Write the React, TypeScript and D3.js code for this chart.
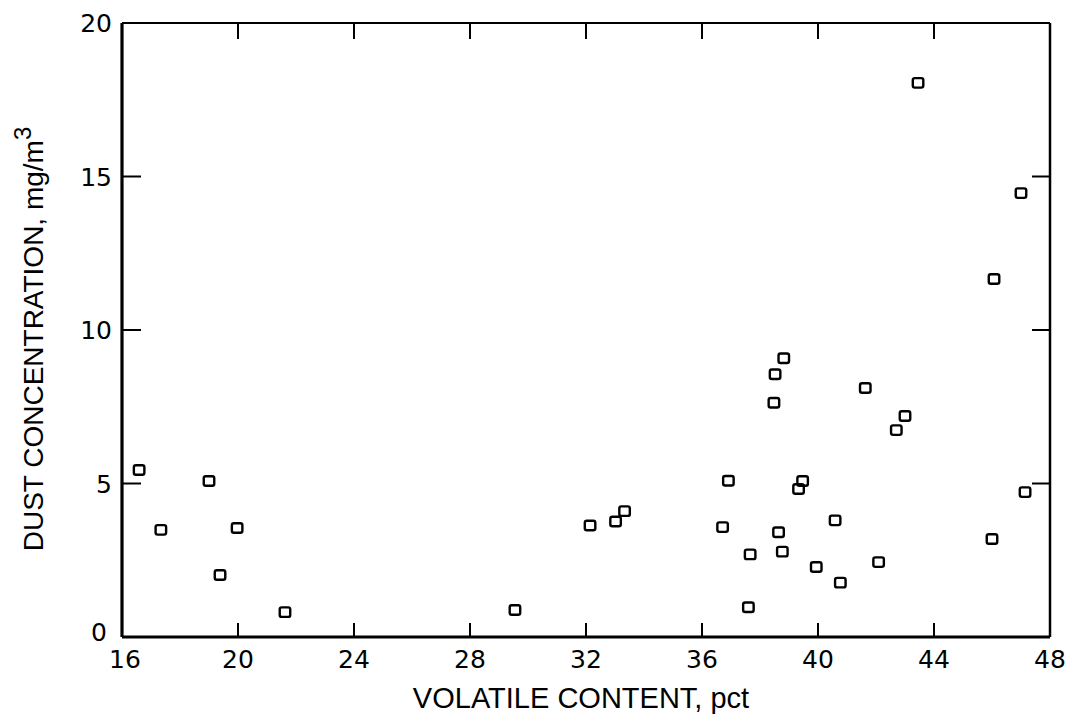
import React from "react";
import * as d3 from "d3";

const volatile = [16.59, 17.34, 19.0, 19.38, 19.97, 21.62, 29.55, 32.14, 33.02, 33.33, 36.71, 36.91, 37.66, 37.6, 38.48, 38.52, 38.82, 38.64, 38.77, 39.33, 39.47, 39.94, 40.59, 40.77, 41.63, 42.09, 42.7, 43.0, 43.45, 46.0, 46.07, 47.0, 47.14];
const dust = [5.44, 3.49, 5.08, 2.02, 3.55, 0.81, 0.88, 3.63, 3.76, 4.1, 3.58, 5.09, 2.69, 0.97, 7.63, 8.56, 9.08, 3.41, 2.78, 4.82, 5.08, 2.28, 3.8, 1.77, 8.11, 2.44, 6.74, 7.2, 18.05, 3.19, 11.66, 14.46, 4.72];
const xTicks = [16, 20, 24, 28, 32, 36, 40, 44, 48];
const yTicks = [0, 5, 10, 15, 20];

const W = 1078, H = 725;
const left = 122, right = 1050, top = 23, bottom = 637;
const font = "'Liberation Sans', Arial, sans-serif";
const numFont = "'DejaVu Sans', sans-serif";

export default function App() {
  const x = d3.scaleLinear().domain([16, 48]).range([left, right]);
  const y = d3.scaleLinear().domain([0, 20]).range([bottom, top]);
  const tl = 16;
  const inner = xTicks.slice(1, -1);
  const innerY = yTicks.slice(1, -1);
  return (
    <svg width={W} height={H} style={{ position: "absolute", left: 0, top: 0, background: "#fff" }}>
      <rect width={W} height={H} fill="#fff" />
      {/* frame */}
      <line x1={left} x2={right} y1={top} y2={top} stroke="#000" strokeWidth={2.2} />
      <line x1={right} x2={right} y1={top} y2={bottom} stroke="#000" strokeWidth={2.5} />
      <line x1={left} x2={right} y1={bottom} y2={bottom} stroke="#000" strokeWidth={3.2} />
      <line x1={left} x2={left} y1={top} y2={bottom} stroke="#000" strokeWidth={3.2} />
      {inner.map((t) => (
        <g key={"xt" + t}>
          <line x1={x(t)} x2={x(t)} y1={bottom} y2={bottom - tl + 2} stroke="#000" strokeWidth={2} />
          <line x1={x(t)} x2={x(t)} y1={top} y2={top + tl} stroke="#000" strokeWidth={2} />
        </g>
      ))}
      {innerY.map((t) => (
        <g key={"yt" + t}>
          <line x1={left} x2={left + tl + 3} y1={y(t)} y2={y(t)} stroke="#000" strokeWidth={2} />
          <line x1={right} x2={right - tl - 2} y1={y(t)} y2={y(t)} stroke="#000" strokeWidth={2} />
        </g>
      ))}
      {xTicks.map((t) => (
        <text key={"xl" + t} x={x(t) + (t === 16 ? 3 : 0)} y={bottom + 31} textAnchor="middle" fontFamily={numFont} fontSize={25} fill="#000">
          {t}
        </text>
      ))}
      {yTicks.map((t) => (
        <text key={"yl" + t} x={left - (t === 0 ? 15 : 10)} y={y(t) + (t === 0 ? 4 : 9)} textAnchor="end" fontFamily={numFont} fontSize={25} fill="#000">
          {t}
        </text>
      ))}
      <text x={581} y={708} textAnchor="middle" fontFamily={font} fontSize={29} fill="#000">
        VOLATILE CONTENT, pct
      </text>
      <text transform={`translate(43,${339}) rotate(-90)`} textAnchor="middle" fontFamily={font} fontSize={28} fill="#000">
        DUST CONCENTRATION, mg/m
        <tspan dy={-12} fontSize={24}>3</tspan>
      </text>
      {volatile.map((v, i) => (
        <rect
          key={"p" + i}
          x={x(v) - 5.25}
          y={y(dust[i]) - 4.75}
          width={10.5}
          height={9.5}
          rx={2}
          fill="none"
          stroke="#000"
          strokeWidth={2.4}
        />
      ))}
    </svg>
  );
}
